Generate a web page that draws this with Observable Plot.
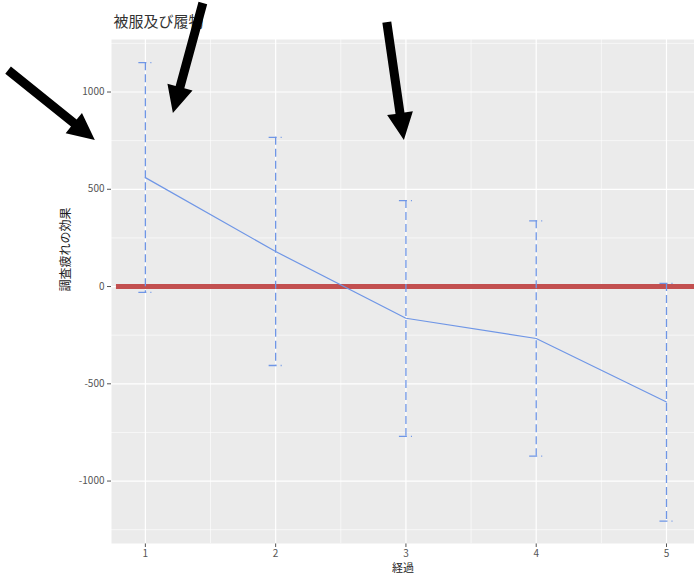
<!DOCTYPE html>
<html>
<head>
<meta charset="utf-8">
<script src="https://cdn.jsdelivr.net/npm/d3@7"></script>
<script src="https://cdn.jsdelivr.net/npm/@observablehq/plot@0.6"></script>
<style>
  html, body { margin: 0; padding: 0; background: #fff; }
  svg { overflow: visible; }
</style>
</head>
<body>
<div id="chart"></div>
<script>
// Survey-fatigue effect by wave, with error bars
const waves = [1, 2, 3, 4, 5];
const effects = [560, 180, -163, -267, -594];
const upper = [1151, 767, 442, 338, 16];
const lower = [-30, -406, -770, -872, -1206];

const yTicks = [-1000, -500, 0, 500, 1000];
const yMinor = [-1250, -750, -250, 250, 750, 1250];
const xMinor = [1.5, 2.5, 3.5, 4.5];

const titleText = "被服及び履物";
const xLabel = "経過";
const yLabel = "調査疲れの効果";

// Callout arrows (tail -> tip, in data units)
const arrowTailX = [-0.05, 1.445, 2.857];
const arrowTailY = [1110, 1455, 1357];
const arrowTipX = [0.616, 1.215, 2.988];
const arrowTipY = [751, 889, 751];

const rows = waves.map((w, i) => ({wave: w, effect: effects[i], hi: upper[i], lo: lower[i]}));
const arrows = arrowTailX.map((x, i) => ({x1: x, y1: arrowTailY[i], x2: arrowTipX[i], y2: arrowTipY[i]}));

const blue = "#6f96e6";
const capHalf = 0.05;
const font = "'Noto Sans CJK JP', 'Noto Sans', sans-serif";

function arrowMark(index, scales) {
  const g = d3.create("svg:g");
  for (const a of arrows) {
    const x1 = scales.x(a.x1), y1 = scales.y(a.y1);
    const x2 = scales.x(a.x2), y2 = scales.y(a.y2);
    const len = Math.hypot(x2 - x1, y2 - y1);
    const ux = (x2 - x1) / len, uy = (y2 - y1) / len;
    const nx = -uy, ny = ux;
    const H = 27, W = 13, s = 4.5;
    const bx = x2 - ux * H, by = y2 - uy * H;
    const pts = [
      [x1 + nx * s, y1 + ny * s],
      [bx + nx * s, by + ny * s],
      [bx + nx * W, by + ny * W],
      [x2, y2],
      [bx - nx * W, by - ny * W],
      [bx - nx * s, by - ny * s],
      [x1 - nx * s, y1 - ny * s]
    ];
    g.append("path").attr("d", "M" + pts.map(p => p.join(",")).join("L") + "Z").attr("fill", "#000");
  }
  return g.node();
}

const chart = Plot.plot({
  width: 694,
  height: 574,
  marginLeft: 111,
  marginRight: 0,
  marginTop: 39,
  marginBottom: 31,
  style: {fontFamily: font, fontSize: "10px", color: "#555", background: "#fff"},
  x: {domain: [0.74, 5.215], ticks: waves, tickFormat: d => String(d), tickSize: 4, tickPadding: 2, label: null},
  y: {domain: [-1321, 1270], ticks: yTicks, tickFormat: d => String(d), tickSize: 4, tickPadding: 3, label: null},
  marks: [
    Plot.frame({fill: "#ebebeb", stroke: null}),
    Plot.ruleY(yMinor, {stroke: "#fff", strokeWidth: 0.6}),
    Plot.ruleX(xMinor, {stroke: "#fff", strokeWidth: 0.6}),
    Plot.ruleY(yTicks, {stroke: "#fff", strokeWidth: 1.2}),
    Plot.ruleX(waves, {stroke: "#fff", strokeWidth: 1.2}),
    // zero reference line
    Plot.ruleY([0], {x1: 0.778, x2: 5.215, stroke: "#c24f4f", strokeWidth: 5}),
    // error bars: caps and whiskers
    Plot.ruleY(rows, {y: "hi", x1: d => d.wave - capHalf, x2: d => d.wave + capHalf, stroke: blue, strokeWidth: 1.3, strokeDasharray: "8,4"}),
    Plot.ruleX(rows, {x: "wave", y1: "hi", y2: "lo", stroke: blue, strokeWidth: 1.3, strokeDasharray: "8,4"}),
    Plot.ruleY(rows, {y: "lo", x1: d => d.wave - capHalf, x2: d => d.wave + capHalf, stroke: blue, strokeWidth: 1.3, strokeDasharray: "8,4"}),
    // mean effect line
    Plot.line(rows, {x: "wave", y: "effect", stroke: blue, strokeWidth: 1.2}),
    // titles
    Plot.text([titleText], {frameAnchor: "top-left", dx: 2, dy: -17, textAnchor: "start", lineAnchor: "middle", fontSize: 15, fill: "#333"}),
    Plot.text([xLabel], {frameAnchor: "bottom", dy: 25, lineAnchor: "middle", fontSize: 11, fill: "#222"}),
    Plot.text([yLabel], {frameAnchor: "left", dx: -45, rotate: -90, lineAnchor: "middle", fontSize: 12, fill: "#222"}),
    arrowMark
  ]
});

document.getElementById("chart").appendChild(chart);
</script>
</body>
</html>
